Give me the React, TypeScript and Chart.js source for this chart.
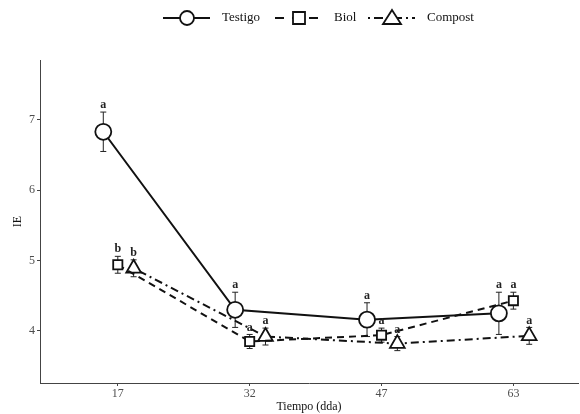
import React, { useEffect, useRef } from "react";
import { Chart, registerables } from "chart.js";

Chart.register(...registerables);

const categories = ["17", "32", "47", "63"];
const seriesNames = ["Testigo", "Biol", "Compost"];
const testigo = [6.83, 4.3, 4.16, 4.25];
const biol = [4.94, 3.85, 3.94, 4.43];
const compost = [4.89, 3.92, 3.82, 3.93];
const testigoErr = [0.28, 0.25, 0.24, 0.3];
const biolErr = [0.12, 0.1, 0.1, 0.12];
const compostErr = [0.12, 0.12, 0.1, 0.12];
const testigoLetters = ["a", "a", "a", "a"];
const biolLetters = ["b", "a", "a", "a"];
const compostLetters = ["b", "a", "a", "a"];
const yTicks = [4, 5, 6, 7];

const FONT = "'Liberation Serif', 'DejaVu Serif', serif";
const dodge = [-0.11, 0, 0.12];
const values = [testigo, biol, compost];
const errs = [testigoErr, biolErr, compostErr];
const letters = [testigoLetters, biolLetters, compostLetters];
const dashes: number[][] = [[], [7, 5], [2, 4, 8, 4]];
const styles = ["circle", "rect", "triangle"];
const radii = [8, 6.5, 8.5];

const errorPlugin = {
  id: "errs",
  beforeDatasetsDraw(chart: any) {
    const ctx = chart.ctx;
    const xs = chart.scales.x;
    const ys = chart.scales.y;
    ctx.save();
    ctx.strokeStyle = "#222";
    ctx.lineWidth = 1;
    values.forEach((vals, s) => {
      vals.forEach((v, i) => {
        const x = xs.getPixelForValue(i + 1 + dodge[s]);
        const y1 = ys.getPixelForValue(v + errs[s][i]);
        const y2 = ys.getPixelForValue(v - errs[s][i]);
        ctx.beginPath();
        ctx.moveTo(x, y1);
        ctx.lineTo(x, y2);
        ctx.moveTo(x - 3, y1);
        ctx.lineTo(x + 3, y1);
        ctx.moveTo(x - 3, y2);
        ctx.lineTo(x + 3, y2);
        ctx.stroke();
      });
    });
    ctx.restore();
  },
  afterDatasetsDraw(chart: any) {
    const ctx = chart.ctx;
    const xs = chart.scales.x;
    const ys = chart.scales.y;
    ctx.save();
    ctx.fillStyle = "#222";
    ctx.font = `bold 12px ${FONT}`;
    ctx.textAlign = "center";
    ctx.textBaseline = "bottom";
    values.forEach((vals, s) => {
      vals.forEach((v, i) => {
        const x = xs.getPixelForValue(i + 1 + dodge[s]);
        const y1 = ys.getPixelForValue(v + errs[s][i]);
        ctx.fillText(letters[s][i], x, y1 - 1);
      });
    });
    ctx.restore();
  },
  afterDraw(chart: any) {
    const ctx = chart.ctx;
    ctx.save();
    const y = 18;
    const starts = [163, 275, 368];
    ctx.font = `13px ${FONT}`;
    ctx.textBaseline = "middle";
    ctx.textAlign = "left";
    seriesNames.forEach((name, s) => {
      const x0 = starts[s];
      ctx.strokeStyle = "#111";
      ctx.lineWidth = 2;
      ctx.setLineDash(s === 1 ? [9, 8] : s === 2 ? [2, 4, 9, 4] : []);
      ctx.beginPath();
      ctx.moveTo(x0, y);
      ctx.lineTo(x0 + 47, y);
      ctx.stroke();
      ctx.setLineDash([]);
      const cx = x0 + 24;
      ctx.fillStyle = "#fff";
      ctx.lineWidth = 1.8;
      ctx.beginPath();
      if (s === 0) {
        ctx.arc(cx, y, 7, 0, Math.PI * 2);
      } else if (s === 1) {
        ctx.rect(cx - 6, y - 6, 12, 12);
      } else {
        ctx.moveTo(cx, y - 8);
        ctx.lineTo(cx + 9, y + 6);
        ctx.lineTo(cx - 9, y + 6);
        ctx.closePath();
      }
      ctx.fill();
      ctx.stroke();
      ctx.fillStyle = "#111";
      ctx.fillText(name, x0 + 59, y);
    });
    ctx.restore();
  },
};

export default function App() {
  const ref = useRef<HTMLCanvasElement>(null);
  useEffect(() => {
    document.body.style.margin = "0";
    const chart = new Chart(ref.current!, {
      type: "line",
      data: {
        datasets: values.map((vals, s) => ({
          label: seriesNames[s],
          data: vals.map((v, i) => ({ x: i + 1 + dodge[s], y: v })),
          borderColor: "#111",
          borderWidth: 2,
          borderDash: dashes[s],
          backgroundColor: "#fff",
          pointStyle: styles[s] as any,
          pointRadius: radii[s],
          pointBorderWidth: 1.8,
          pointBorderColor: "#111",
          pointBackgroundColor: "#fff",
          tension: 0,
        })),
      },
      options: {
        animation: false,
        responsive: false,
        layout: { autoPadding: false, padding: { top: 60, right: 2, left: 0, bottom: 0 } },
        plugins: { legend: { display: false }, tooltip: { enabled: false } },
        scales: {
          x: {
            type: "linear",
            min: 0.41,
            max: 4.49,
            afterBuildTicks: (axis: any) => {
              axis.ticks = categories.map((_, i) => ({ value: i + 1 }));
            },
            afterFit: (axis: any) => {
              axis.height = 31;
              axis.paddingRight = 0;
              axis.paddingLeft = 0;
            },
            ticks: {
              callback: (v: any) => categories[Number(v) - 1] ?? "",
              color: "#4d4d4d",
              font: { family: FONT, size: 12 },
              padding: 1,
              maxRotation: 0,
            },
            grid: { drawOnChartArea: false, drawTicks: true, tickLength: 3, color: "#444" },
            border: { display: true, color: "#444", width: 1 },
            title: {
              display: true,
              text: "Tiempo (dda)",
              color: "#111",
              font: { family: FONT, size: 12 },
              padding: { top: -3, bottom: 0 },
            },
          },
          y: {
            type: "linear",
            min: 3.26,
            max: 7.85,
            afterBuildTicks: (axis: any) => {
              axis.ticks = yTicks.map((v) => ({ value: v }));
            },
            afterFit: (axis: any) => {
              axis.width = 40;
            },
            ticks: {
              color: "#4d4d4d",
              font: { family: FONT, size: 12 },
              padding: 2,
            },
            grid: { drawOnChartArea: false, drawTicks: true, tickLength: 3, color: "#444" },
            border: { display: true, color: "#444", width: 1 },
            title: {
              display: true,
              text: "IE",
              color: "#111",
              font: { family: FONT, size: 12 },
              padding: { top: 11, bottom: 0 },
            },
          },
        },
      },
      plugins: [errorPlugin],
    } as any);
    return () => chart.destroy();
  }, []);
  return (
    <div style={{ width: 580, height: 414 }}>
      <canvas ref={ref} width={580} height={414} style={{ display: "block" }} />
    </div>
  );
}
